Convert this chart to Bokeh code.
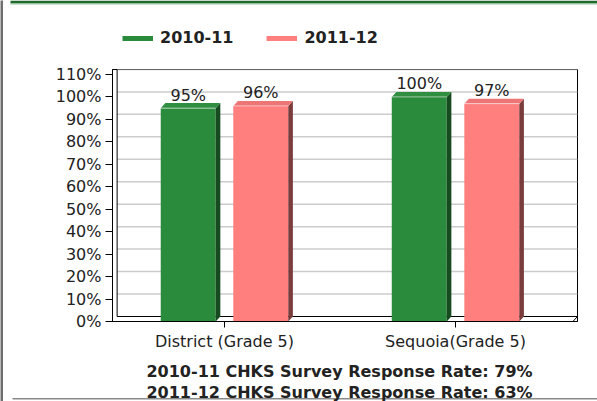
from bokeh.plotting import figure
from bokeh.layouts import column, row
from bokeh.models import Range1d, FixedTicker, Legend, LegendItem
from bokeh.core.properties import value
from bokeh.embed import file_html
from bokeh.resources import INLINE

# ---- data ----
categories = ["District (Grade 5)", "Sequoia(Grade 5)"]
series_names = ["2010-11", "2011-12"]
values_2010_11 = [95, 100]
values_2011_12 = [96, 97]
response_years = ["2010-11", "2011-12"]
response_rates = [79, 63]
y_ticks = list(range(0, 111, 10))
y_tick_labels = [f"{t}%" for t in y_ticks]

# ---- style ----
FONT = "DejaVu Sans"
GREEN, GREEN_SIDE, GREEN_TOP = "#2a8b3c", "#174a1f", "#2f8e40"
PINK, PINK_SIDE, PINK_TOP = "#ff7f7f", "#7b3c3c", "#ee7575"
TXT = "#222222"
EDGE = 3                      # left border strip width
W = 597 - EDGE
H_TOP, H_MAIN, H_BOT = 55, 300, 46


def bare_figure(w, h, x0=EDGE):
    f = figure(width=w, height=h, output_backend="svg", toolbar_location=None,
               x_range=Range1d(x0, x0 + w), y_range=Range1d(h, 0),
               min_border=0, min_border_left=0, min_border_right=0,
               min_border_top=0, min_border_bottom=0, frame_align=False)
    f.axis.visible = False
    f.grid.visible = False
    f.outline_line_color = None
    f.background_fill_color = "white"
    f.border_fill_color = "white"
    return f


# ---------------- left border strip ----------------
edge = bare_figure(EDGE, H_TOP + H_MAIN + H_BOT, x0=0)
edge.background_fill_color = "#6f6f6f"
edge.border_fill_color = "#6f6f6f"

# ---------------- top strip: frame border + legend ----------------
top = bare_figure(W, H_TOP)
top.quad(left=[10], right=[597], top=[0], bottom=[3], fill_color="#1f6a2c", line_color=None)
top.quad(left=[10], right=[597], top=[3], bottom=[4], fill_color="#9cc7a3", line_color=None)
r1 = top.line([float("nan")], [float("nan")], line_color=GREEN, line_width=5)
r2 = top.line([float("nan")], [float("nan")], line_color=PINK, line_width=5)
legend = Legend(items=[LegendItem(label=series_names[0], renderers=[r1]),
                       LegendItem(label=series_names[1], renderers=[r2])],
                orientation="horizontal", location=(122 - EDGE, 8),
                glyph_width=31, glyph_height=16, label_height=16,
                label_standoff=7, spacing=33, padding=0, margin=0,
                border_line_alpha=0, background_fill_alpha=0,
                label_text_font=FONT, label_text_font_style="bold",
                label_text_font_size="16px", label_text_color=TXT)
top.add_layout(legend)

# ---------------- main chart ----------------
X0, X1 = 0.5152, 2.528
Y0, Y1 = 0.0, 112.2
DX, DY = 0.02, 2.23        # 3D depth offsets
HALF_GAP, BAR_W = 0.157, 0.238

p = figure(width=W, height=H_MAIN, output_backend="svg", toolbar_location=None,
           x_range=Range1d(X0, X1), y_range=Range1d(Y0, Y1),
           min_border_left=112 - EDGE, min_border_right=20, min_border_top=14,
           min_border_bottom=34, frame_align=False)
p.background_fill_color = "white"
p.border_fill_color = "white"
p.outline_line_color = "black"
p.outline_line_width = 1
p.xgrid.visible = False
p.ygrid.visible = False

gy = [t + DY for t in y_ticks[1:]]
p.segment(x0=[X0 + DX] * len(gy), x1=[X1] * len(gy), y0=gy, y1=gy,
          line_color="#cccccc", line_width=1.5)
p.segment(x0=[X0 + DX, X0 + DX], x1=[X0 + DX, X1], y0=[DY, DY], y1=[Y1, DY],
          line_color="black", line_width=1)
p.segment(x0=[X1 - DX], x1=[X1], y0=[0], y1=[DY], line_color="black", line_width=1)


def draw_series(vals, offset, face, side, topc):
    xc = [i + 1 + offset for i in range(len(vals))]
    left = [x - BAR_W / 2 for x in xc]
    right = [x + BAR_W / 2 for x in xc]
    p.quad(left=left, right=right, bottom=[0] * len(vals), top=vals,
           fill_color=face, line_color=None)
    p.patches(xs=[[r, r + DX, r + DX, r] for r in right],
              ys=[[0, DY, v + DY, v] for v in vals], fill_color=side, line_color=None)
    p.patches(xs=[[l, l + DX, r + DX, r] for l, r in zip(left, right)],
              ys=[[v, v + DY, v + DY, v] for v in vals], fill_color=topc, line_color=None)
    p.segment(x0=left, x1=right, y0=vals, y1=vals, line_color="white",
              line_alpha=0.55, line_width=1)
    p.text(x=xc, y=[v + DY for v in vals], text=[f"{v}%" for v in vals],
           text_align="center", text_baseline="alphabetic", y_offset=-8,
           text_font=value(FONT), text_font_size="16px", text_color=TXT)


draw_series(values_2010_11, -HALF_GAP, GREEN, GREEN_SIDE, GREEN_TOP)
draw_series(values_2011_12, HALF_GAP, PINK, PINK_SIDE, PINK_TOP)

p.yaxis.ticker = FixedTicker(ticks=y_ticks)
p.yaxis.major_label_overrides = {t: l for t, l in zip(y_ticks, y_tick_labels)}
p.yaxis.minor_tick_line_color = None
p.yaxis.major_tick_out = 7
p.yaxis.major_tick_in = 0
p.yaxis.major_label_standoff = 4
p.yaxis.axis_line_color = "black"

p.xaxis.ticker = FixedTicker(ticks=[1, 2])
p.xaxis.major_label_overrides = {i + 1: c for i, c in enumerate(categories)}
p.xaxis.minor_tick_line_color = None
p.xaxis.major_tick_out = 6
p.xaxis.major_tick_in = 0
p.xaxis.major_label_standoff = 4
p.xaxis.axis_line_color = "black"

for ax in (p.xaxis, p.yaxis):
    ax.major_label_text_font = FONT
    ax.major_label_text_font_size = "16px"
    ax.major_label_text_color = TXT

# ---------------- bottom strip: response-rate notes ----------------
bot = bare_figure(W, H_BOT)
bot.quad(left=[12], right=[597], top=[42.5], bottom=[44], fill_color="#8a8a8a", line_color=None)
notes = [f"{yr} CHKS Survey Response Rate: {r}%" for yr, r in zip(response_years, response_rates)]
bot.text(x=[339, 339], y=[16, 37], text=notes, text_align="center",
         text_baseline="alphabetic", text_font=value(FONT), text_font_style="bold",
         text_font_size="16px", text_color=TXT)

layout = row(edge, column(top, p, bot, spacing=0), spacing=0)
open("out.html", "w").write(file_html(layout, INLINE))
